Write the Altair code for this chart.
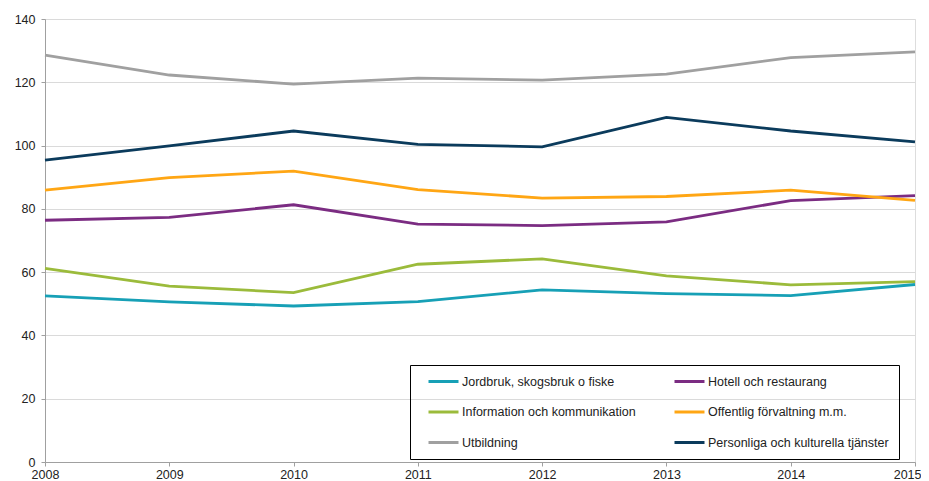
import altair as alt
import pandas as pd

years = [2008, 2009, 2010, 2011, 2012, 2013, 2014, 2015]
series_names = [
    "Jordbruk, skogsbruk o fiske",
    "Hotell och restaurang",
    "Information och kommunikation",
    "Offentlig förvaltning m.m.",
    "Utbildning",
    "Personliga och kulturella tjänster",
]
jordbruk = [52.5, 50.6, 49.3, 50.7, 54.4, 53.2, 52.6, 56.1]
hotell = [76.4, 77.3, 81.3, 75.2, 74.7, 75.9, 82.6, 84.2]
information = [61.2, 55.6, 53.5, 62.5, 64.2, 58.8, 56.0, 57.0]
offentlig = [85.9, 89.9, 91.9, 86.1, 83.4, 83.9, 85.9, 82.7]
utbildning = [128.6, 122.3, 119.4, 121.3, 120.7, 122.6, 127.8, 129.6]
personliga = [95.4, 99.9, 104.6, 100.4, 99.6, 108.9, 104.6, 101.2]
colors = ["#17A0B6", "#7B2C82", "#9BBB3B", "#FFA614", "#A0A0A0", "#0B3B5C"]

values = [jordbruk, hotell, information, offentlig, utbildning, personliga]
rows = []
for name, vals in zip(series_names, values):
    for y, v in zip(years, vals):
        rows.append({"year": y, "value": v, "series": name})
df = pd.DataFrame(rows)

font = "Liberation Sans"
fs = 12.5

chart = (
    alt.Chart(df)
    .mark_line(strokeWidth=2.8)
    .encode(
        x=alt.X(
            "year:Q",
            scale=alt.Scale(domain=[2008, 2015], nice=False, zero=False),
            axis=alt.Axis(
                title=None,
                values=years,
                format="d",
                grid=False,
                tickSize=4,
                tickColor="#A0A0A0",
                domainColor="#A0A0A0",
                labelFont=font,
                labelFontSize=fs,
                labelColor="#222222",
                labelPadding=2,
                labelFlush=False,
                labelOverlap=False,
                labelBound=False,
                labelAlign=alt.condition("datum.value == 2015", alt.value("right"), alt.value("center")),
                labelOffset=alt.condition("datum.value == 2015", alt.value(6), alt.value(0)),
            ),
        ),
        y=alt.Y(
            "value:Q",
            scale=alt.Scale(domain=[0, 140], nice=False),
            axis=alt.Axis(
                title=None,
                values=[0, 20, 40, 60, 80, 100, 120, 140],
                gridColor="#DADADA",
                gridWidth=1,
                tickSize=4,
                tickColor="#A0A0A0",
                domainColor="#A0A0A0",
                labelFont=font,
                labelFontSize=fs,
                labelColor="#222222",
                labelPadding=6,
            ),
        ),
        color=alt.Color(
            "series:N",
            scale=alt.Scale(domain=series_names, range=colors),
            sort=series_names,
            legend=alt.Legend(
                title=None,
                orient="none",
                legendX=365,
                legendY=346,
                columns=2,
                direction="horizontal",
                symbolType="M0.4,0H6.4",
                symbolSize=100,
                symbolStrokeWidth=3,
                labelFont=font,
                labelFontSize=fs,
                labelColor="#222222",
                labelOffset=29,
                labelLimit=300,
                rowPadding=17.5,
                columnPadding=30,
                padding=10,
                strokeColor="#000000",
                fillColor="transparent",
                gridAlign="each",
            ),
        ),
    )
    .properties(
        width=870,
        height=443,
        autosize=alt.AutoSizeParams(type="none"),
        padding={"left": 37, "top": 11, "right": 6, "bottom": 20},
    )
    .configure_view(stroke="#A6A6A6", strokeWidth=1)
    .configure(background="white")
)

chart.save("out.html", embed_options={"renderer": "svg", "actions": False})
